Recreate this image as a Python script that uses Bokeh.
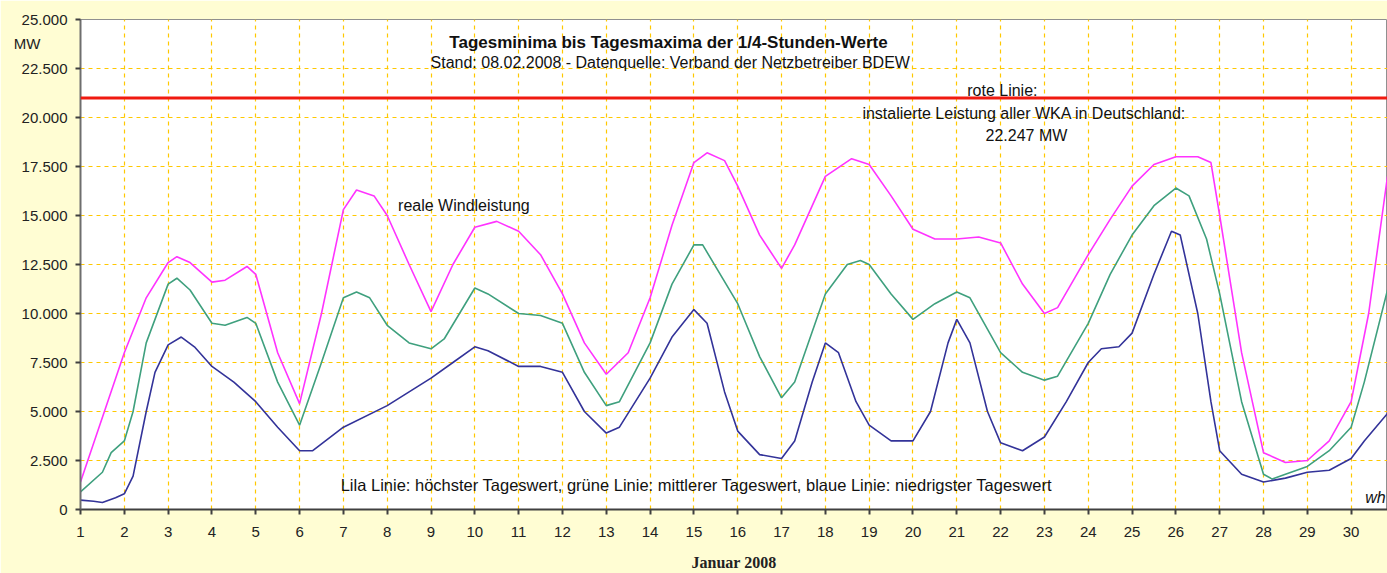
from bokeh.plotting import figure
from bokeh.models import Range1d, FixedTicker, Span, Label, LinearAxis
from bokeh.embed import file_html
from bokeh.resources import INLINE

# ---- data ----
max_days = [1, 2, 2.5, 3, 3.2, 3.5, 4, 4.3, 4.8, 5, 5.5, 6, 6.5, 7, 7.3, 7.7, 8, 8.5, 9, 9.5,
            10, 10.5, 11, 11.5, 12, 12.5, 13, 13.5, 14, 14.5, 15, 15.3, 15.7, 16, 16.5, 17, 17.3,
            18, 18.6, 19, 19.5, 20, 20.5, 21, 21.5, 22, 22.5, 23, 23.3, 24, 24.5, 25, 25.5, 26,
            26.5, 26.8, 27, 27.5, 28, 28.5, 29, 29.5, 30, 30.4, 30.83]
max_vals = [1400, 8000, 10800, 12600, 12900, 12600, 11600, 11700, 12400, 12000, 8000, 5400,
            10000, 15300, 16300, 16000, 15000, 12500, 10100, 12500, 14400, 14700, 14200, 13000,
            11000, 8500, 6900, 8000, 10800, 14500, 17700, 18200, 17800, 16500, 14000, 12300,
            13500, 17000, 17900, 17600, 16000, 14300, 13800, 13800, 13900, 13600, 11500, 10000,
            10300, 13000, 14800, 16500, 17600, 18000, 18000, 17700, 15000, 8000, 2900, 2400,
            2500, 3500, 5500, 10000, 17000]

mean_days = [1, 1.5, 1.7, 2, 2.2, 2.5, 3, 3.2, 3.5, 4, 4.3, 4.8, 5, 5.5, 6, 6.5, 7, 7.3, 7.6,
             8, 8.5, 9, 9.3, 10, 10.3, 11, 11.5, 12, 12.5, 13, 13.3, 14, 14.5, 15, 15.2, 16,
             16.5, 17, 17.3, 18, 18.5, 18.8, 19, 19.5, 20, 20.5, 21, 21.3, 22, 22.5, 23, 23.3,
             24, 24.5, 25, 25.5, 26, 26.3, 26.7, 27, 27.5, 28, 28.2, 28.5, 29, 29.5, 30, 30.3,
             30.83]
mean_vals = [900, 1900, 2900, 3500, 5000, 8500, 11500, 11800, 11200, 9500, 9400, 9800, 9500,
             6500, 4300, 7500, 10800, 11100, 10800, 9400, 8500, 8200, 8700, 11300, 11000, 10000,
             9900, 9500, 7000, 5300, 5500, 8500, 11500, 13500, 13500, 10500, 7800, 5700, 6500,
             11000, 12500, 12700, 12500, 11000, 9700, 10500, 11100, 10800, 8000, 7000, 6600,
             6800, 9500, 12000, 14000, 15500, 16400, 16000, 13800, 11000, 5500, 1800, 1550,
             1800, 2200, 3000, 4200, 6500, 11200]

min_days = [1, 1.3, 1.5, 1.8, 2, 2.2, 2.5, 2.7, 3, 3.3, 3.6, 4, 4.5, 5, 5.5, 6, 6.3, 7, 8, 9,
            9.5, 10, 10.3, 11, 11.5, 12, 12.5, 13, 13.3, 14, 14.5, 15, 15.3, 15.7, 16, 16.5, 17,
            17.3, 17.7, 18, 18.3, 18.7, 19, 19.5, 20, 20.4, 20.8, 21, 21.3, 21.7, 22, 22.5, 23,
            23.5, 24, 24.3, 24.7, 25, 25.5, 25.9, 26.1, 26.5, 26.8, 27, 27.5, 28, 28.5, 29, 29.5,
            30, 30.3, 30.83]
min_vals = [480, 420, 360, 600, 800, 1700, 5000, 7000, 8400, 8800, 8300, 7300, 6500, 5500,
            4200, 3000, 3000, 4200, 5300, 6700, 7500, 8300, 8100, 7300, 7300, 7000, 5000, 3900,
            4200, 6700, 8800, 10200, 9500, 6000, 4000, 2800, 2600, 3500, 6500, 8500, 8000, 5500,
            4300, 3500, 3500, 5000, 8500, 9700, 8500, 5000, 3400, 3000, 3700, 5500, 7500, 8200,
            8300, 9000, 12000, 14200, 14000, 10000, 5500, 3000, 1800, 1400, 1600, 1900, 2000,
            2600, 3500, 4900]

day_ticks = list(range(1, 31))
mw_ticks = [0, 2500, 5000, 7500, 10000, 12500, 15000, 17500, 20000, 22500, 25000]
mw_tick_labels = ["0", "2.500", "5.000", "7.500", "10.000", "12.500", "15.000", "17.500",
                  "20.000", "22.500", "25.000"]
unit_label = "MW"
unit_label_pos = 23780
red_line_mw = 21000

FONT = "Liberation Sans"
BG = "#FFFDD3"
GRID = "#FFC800"

p = figure(width=1387, height=573, output_backend="svg", toolbar_location=None,
           x_range=Range1d(1, 30.83), y_range=Range1d(0, 25000),
           min_border_left=80, min_border_top=19, min_border_right=0, min_border_bottom=63,
           background_fill_color="white", border_fill_color=BG)
p.outline_line_color = "#909090"
p.outline_line_width = 1

# axes
p.xaxis.ticker = FixedTicker(ticks=day_ticks)
p.yaxis.ticker = FixedTicker(ticks=mw_ticks)
p.yaxis.major_label_overrides = {t: l for t, l in zip(mw_ticks, mw_tick_labels)}
for ax in (p.xaxis[0], p.yaxis[0]):
    ax.axis_line_width = 2
    ax.major_tick_line_color = "#404040"
    ax.major_tick_line_width = 2
    ax.major_tick_in = 0
    ax.major_tick_out = 5
    ax.minor_tick_line_color = None
    ax.major_label_text_font = FONT
    ax.major_label_text_font_size = "15px"
    ax.major_label_text_color = "#222222"
p.xaxis.axis_line_color = "#404040"
p.yaxis.axis_line_color = "#6E6E6E"
p.yaxis.major_label_standoff = 8
p.xaxis.major_label_standoff = 12
p.xaxis.axis_label = "Januar 2008"
p.xaxis.axis_label_text_font = "Liberation Serif"
p.xaxis.axis_label_text_font_style = "bold"
p.xaxis.axis_label_text_font_size = "16px"
p.xaxis.axis_label_text_color = "#222222"
p.xaxis.axis_label_standoff = 14

# unit label "MW" as an extra, invisible left axis carrying one label
unit_axis = LinearAxis(ticker=FixedTicker(ticks=[unit_label_pos]),
                       major_label_overrides={unit_label_pos: unit_label},
                       axis_line_color=None, major_tick_line_color=None,
                       minor_tick_line_color=None, major_tick_in=0, major_tick_out=0,
                       major_label_standoff=-22, major_label_text_font=FONT,
                       major_label_text_font_size="15px", major_label_text_color="#222222")
p.add_layout(unit_axis, "left")

# grid
for g in (p.xgrid[0], p.ygrid[0]):
    g.grid_line_color = GRID
    g.grid_line_dash = "4 4"
    g.grid_line_width = 1.2
p.xgrid.ticker = FixedTicker(ticks=day_ticks)
p.ygrid.ticker = FixedTicker(ticks=mw_ticks)

# red line
p.add_layout(Span(location=red_line_mw, dimension="width", line_color="#F01A10", line_width=3))

# series
p.line(max_days, max_vals, line_color="#FF33FF", line_width=1.6)
p.line(mean_days, mean_vals, line_color="#3FA07E", line_width=1.6)
p.line(min_days, min_vals, line_color="#333399", line_width=1.6)

def lab(x, y, t, size="16px", style="normal", align="center", font=FONT, color="#111111"):
    p.add_layout(Label(x=x, y=y, text=t, text_font=font,
                       text_font_size=size, text_font_style=style, text_align=align,
                       text_baseline="middle", text_color=color))

lab(14.42, 23830, "Tagesminima bis Tagesmaxima der 1/4-Stunden-Werte", size="17px", style="bold")
lab(14.46, 22810, "Stand: 08.02.2008 - Datenquelle: Verband der Netzbetreiber BDEW")
lab(22.04, 21385, "rote Linie:")
lab(22.54, 20210, "instalierte Leistung aller WKA in Deutschland:")
lab(22.59, 19090, "22.247 MW")
lab(9.75, 15530, "reale Windleistung")
lab(15.06, 1270, "Lila Linie: höchster Tageswert, grüne Linie: mittlerer Tageswert, blaue Linie: niedrigster Tageswert", size="16.5px")
lab(30.79, 610, "wh", style="italic", align="right")

open("out.html", "w").write(file_html(p, INLINE))
